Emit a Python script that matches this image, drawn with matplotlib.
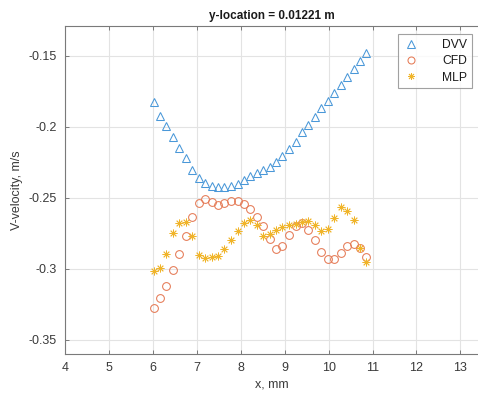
import matplotlib
matplotlib.use("Agg")
import matplotlib.pyplot as plt

plt.rcParams['font.family'] = ['Liberation Sans', 'DejaVu Sans']

# Streamwise positions shared by all three series (mm)
x_mm = [6.02, 6.16, 6.31, 6.46, 6.60, 6.75, 6.90, 7.04, 7.19, 7.34,
        7.49, 7.63, 7.78, 7.93, 8.07, 8.22, 8.37, 8.51, 8.66, 8.81,
        8.95, 9.10, 9.25, 9.39, 9.54, 9.69, 9.83, 9.98, 10.13, 10.28,
        10.42, 10.57, 10.72, 10.86]

v_dvv = [-0.1824, -0.1920, -0.1997, -0.2072, -0.2152, -0.2220, -0.2306, -0.2360,
         -0.2393, -0.2414, -0.2424, -0.2424, -0.2414, -0.2400, -0.2375, -0.2349,
         -0.2325, -0.2302, -0.2284, -0.2247, -0.2208, -0.2154, -0.2103, -0.2039,
         -0.1983, -0.1927, -0.1870, -0.1814, -0.1758, -0.1702, -0.1648, -0.1591,
         -0.1538, -0.1482]

v_cfd = [-0.3275, -0.3206, -0.3120, -0.3009, -0.2892, -0.2770, -0.2635, -0.2536,
         -0.2505, -0.2531, -0.2552, -0.2536, -0.2522, -0.2524, -0.2545, -0.2578,
         -0.2635, -0.2700, -0.2791, -0.2857, -0.2842, -0.2761, -0.2698, -0.2674,
         -0.2723, -0.2798, -0.2881, -0.2934, -0.2930, -0.2888, -0.2841, -0.2824,
         -0.2853, -0.2916]

v_mlp = [-0.3016, -0.2997, -0.2897, -0.2744, -0.2677, -0.2672, -0.2766, -0.2902,
         -0.2927, -0.2918, -0.2911, -0.2857, -0.2798, -0.2735, -0.2674, -0.2656,
         -0.2688, -0.2768, -0.2751, -0.2728, -0.2707, -0.2693, -0.2684, -0.2672,
         -0.2660, -0.2693, -0.2735, -0.2716, -0.2642, -0.2564, -0.2590, -0.2658,
         -0.2853, -0.2949]

x_ticks = [4, 5, 6, 7, 8, 9, 10, 11, 12, 13]
y_ticks = [-0.35, -0.3, -0.25, -0.2, -0.15]
y_tick_labels = ['-0.35', '-0.3', '-0.25', '-0.2', '-0.15']

c_dvv = '#4a98d8'
c_cfd = '#e57a55'
c_mlp = '#f0b429'

fig = plt.figure(figsize=(4.78, 3.96), dpi=100)
ax = fig.add_axes([0.136, 0.106, 0.864, 0.828])

ax.plot(x_mm, v_dvv, linestyle='none', marker='^', ms=6.0, mfc='none',
        mec=c_dvv, mew=0.75, label='DVV')
ax.plot(x_mm, v_cfd, linestyle='none', marker='o', ms=5.6, mfc='none',
        mec=c_cfd, mew=0.75, label='CFD')
ax.plot(x_mm, v_mlp, linestyle='none', marker=(8, 2, 0), ms=5.6,
        mec=c_mlp, mew=0.6, label='MLP')

ax.set_xlim(4, 13.4)
ax.set_ylim(-0.36, -0.129)
ax.set_xticks(x_ticks)
ax.set_yticks(y_ticks)
ax.set_yticklabels(y_tick_labels)

ax.grid(True, color='#e3e3e3', linewidth=0.8)
ax.set_axisbelow(True)
for side in ['left', 'bottom', 'top']:
    ax.spines[side].set_color('#7a7a7a')
    ax.spines[side].set_linewidth(0.8)
ax.spines['right'].set_visible(False)
ax.tick_params(direction='in', length=3, width=0.7, color='#7a7a7a',
               labelsize=9, labelcolor='#3a3a3a', top=True, pad=6)

ax.set_xlabel('x, mm', fontsize=9, color='#3a3a3a', labelpad=3)
ax.set_ylabel('V-velocity, m/s', fontsize=9, color='#3a3a3a', labelpad=4)
ax.set_title('y-location = 0.01221 m', fontsize=8.5, fontweight='bold',
             color='#1a1a1a', pad=5)

leg = ax.legend(loc='upper right', bbox_to_anchor=(0.985, 0.975), fontsize=8.7,
                frameon=True, fancybox=False, edgecolor='#8a8a8a',
                handlelength=1.2, handletextpad=2.0, borderpad=0.4,
                labelspacing=0.35, borderaxespad=0.0, markerfirst=True,
                markerscale=0.9)
leg.get_frame().set_linewidth(0.8)
for t in leg.get_texts():
    t.set_color('#1a1a1a')

fig.savefig('out.png', dpi=100)
